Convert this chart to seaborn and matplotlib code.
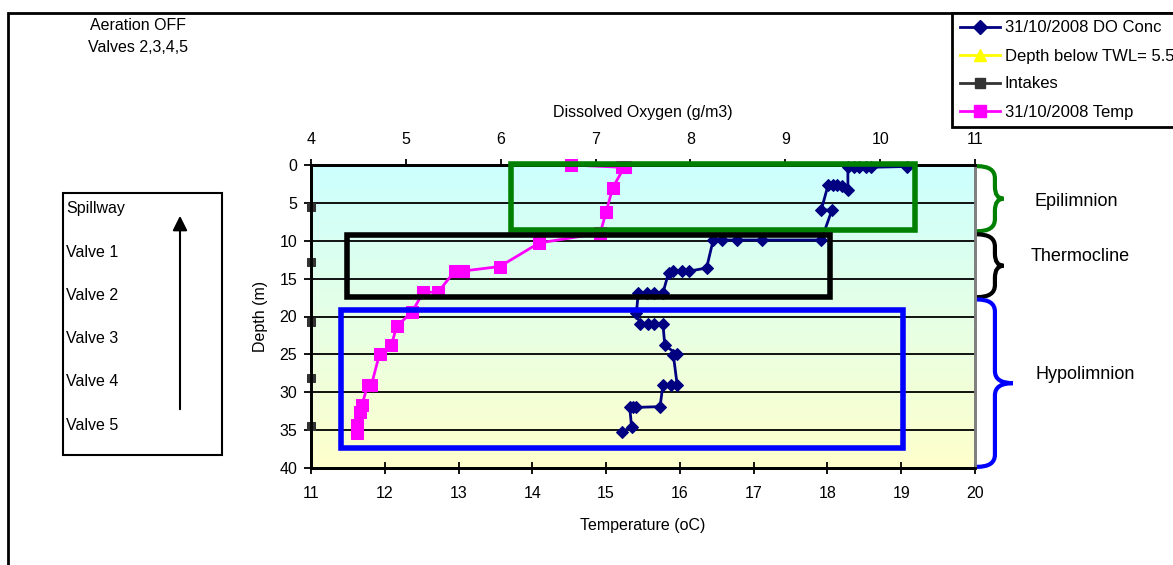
#!/usr/bin/env python3

import numpy as np
import pandas as pd
import matplotlib
matplotlib.use('Agg')
import matplotlib.pyplot as plt
import matplotlib.transforms as mtransforms
import seaborn as sns
from matplotlib.path import Path
from matplotlib.patches import PathPatch, Rectangle, FancyArrowPatch
from matplotlib.lines import Line2D
from matplotlib.colors import LinearSegmentedColormap

# dissolved oxygen profile (g/m3) vs depth (m)
do_conc = [10.28, 9.90, 9.85, 9.78, 9.72, 9.66, 9.66, 9.60, 9.55, 9.50, 9.45,
           9.38, 9.49, 9.38, 8.75, 8.49, 8.33, 8.24, 8.17, 7.99, 7.91, 7.82,
           7.77, 7.71, 7.62, 7.54, 7.45, 7.43, 7.47, 7.55, 7.62, 7.71, 7.73,
           7.86, 7.82, 7.86, 7.80, 7.71, 7.68, 7.43, 7.39, 7.36, 7.38, 7.28]
do_depth = [0.2, 0.3, 0.3, 0.3, 0.3, 0.3, 3.3, 2.8, 2.7, 2.7, 2.7,
            5.9, 6.0, 9.9, 9.9, 9.9, 9.9, 9.9, 13.6, 14.0, 14.0, 14.0,
            14.2, 16.9, 16.9, 16.9, 16.9, 19.6, 21.0, 21.0, 21.0, 21.0, 23.8,
            25.0, 25.1, 29.0, 29.0, 29.0, 31.9, 32.0, 32.0, 32.0, 34.6, 35.2]

# temperature profile (oC) vs depth (m)
temp = [14.52, 15.21, 15.25, 15.09, 15.00, 14.92, 14.09, 13.56, 13.06, 12.95,
        12.72, 12.52, 12.37, 12.16, 12.09, 11.93, 11.82, 11.77, 11.69, 11.66,
        11.62, 11.62]
temp_depth = [0.0, 0.3, 0.2, 3.0, 6.2, 9.0, 10.3, 13.4, 14.0, 14.0,
              16.8, 16.8, 19.4, 21.3, 23.8, 24.9, 29.0, 29.0, 31.7, 32.6,
              34.3, 35.4]

# intake depths (m), drawn on the temperature axis origin
intake_depth = [5.5, 12.8, 20.7, 28.1, 34.4]
intake_temp = [11, 11, 11, 11, 11]

valve_labels = ['Spillway', 'Valve 1', 'Valve 2', 'Valve 3', 'Valve 4', 'Valve 5']
zone_names = ['Epilimnion', 'Thermocline', 'Hypolimnion']
zone_top = [0, 9.0, 17.6]
zone_bottom = [8.9, 17.6, 40]
zone_colors = ['#008000', 'black', '#0000FF']

plt.rcParams['font.family'] = ['Liberation Sans', 'DejaVu Sans']
plt.rcParams['font.size'] = 11.5

W, H = 1173, 565


def fx(px):
	return px / W


def fy(py):
	return 1 - py / H


fig = plt.figure(figsize=(11.73, 5.65), dpi=100)
fig.patch.set_facecolor('white')
ax = fig.add_axes([fx(311), fy(468), fx(975) - fx(311), fy(165) - fy(468)])

# background gradient
cmap = LinearSegmentedColormap.from_list('bg', ['#CCFFFF', '#FFFFCC'])
ax.imshow(np.linspace(0, 1, 256).reshape(-1, 1), extent=(11, 20, 40, 0),
          cmap=cmap, aspect='auto', zorder=0)
ax.set_xlim(11, 20)
ax.set_ylim(40, 0)
ax.set_xticks(range(11, 21))
ax.set_yticks(range(0, 41, 5))
ax.yaxis.grid(True, color='black', linewidth=1.3)
ax.set_axisbelow(False)

temp_df = pd.DataFrame({'temp': temp, 'depth': temp_depth})
intake_df = pd.DataFrame({'temp': intake_temp, 'depth': intake_depth})
sns.lineplot(data=intake_df, x='temp', y='depth', sort=False, estimator=None,
             color='#333333', marker='s', markersize=6, markeredgecolor='#333333',
             linewidth=2, ax=ax, zorder=3)
sns.lineplot(data=temp_df, x='temp', y='depth', sort=False, estimator=None,
             color='#FF00FF', marker='s', markersize=9, markeredgecolor='#FF00FF',
             linewidth=2, ax=ax, zorder=4)
for ln in ax.lines:
	ln.set_clip_on(False)

ax.set_xlabel('Temperature (oC)', labelpad=12)
ax.set_ylabel('Depth (m)', labelpad=8)
ax.tick_params(axis='x', direction='inout', length=8, width=1.3, pad=9)
ax.tick_params(axis='y', direction='out', length=5, width=1.3, pad=5)

# DO on top axis
ax2 = ax.twiny()
do_df = pd.DataFrame({'do': do_conc, 'depth': do_depth})
sns.lineplot(data=do_df, x='do', y='depth', sort=False, estimator=None,
             color='#000080', marker='D', markersize=6.5, markeredgecolor='#000080',
             linewidth=2, ax=ax2, zorder=5)
for ln in ax2.lines:
	ln.set_clip_on(False)
ax2.set_xlim(4, 11)
ax2.set_ylim(40, 0)
ax2.set_xticks(range(4, 12))
ax2.set_xlabel('Dissolved Oxygen (g/m3)', labelpad=11)
ax2.tick_params(axis='x', direction='out', length=4, width=1.3, pad=9)

for a in (ax, ax2):
	for s in ('top', 'left', 'bottom'):
		a.spines[s].set_color('black')
		a.spines[s].set_linewidth(2)
	a.spines['right'].set_color('#808080')
	a.spines['right'].set_linewidth(2)

# zone boxes (temperature coordinates)
boxes = [((13.71, -0.1), 19.18, 8.6, '#008000'),
         ((11.49, 9.2), 18.03, 17.4, 'black'),
         ((11.41, 19.2), 19.03, 37.3, '#0000FF')]
for (x0, y0), x1, y1, col in boxes:
	rect = Rectangle((x0, y0), x1 - x0, y1 - y0, transform=ax.transData,
	                 fill=False, edgecolor=col, linewidth=4, zorder=6, clip_on=False)
	ax2.add_patch(rect)

# braces on the right
btr = mtransforms.blended_transform_factory(ax.transAxes, ax.transData)


def brace(top, bottom, color, tip):
	x0, x1 = 1.003, 1.03
	mid = (top + bottom) / 2
	r = 1.6
	verts = [(x0, top), (x1, top), (x1, top + r), (x1, mid - r), (x1, mid), (tip, mid),
	         (x1, mid), (x1, mid + r), (x1, bottom - r), (x1, bottom), (x0, bottom)]
	codes = [Path.MOVETO, Path.CURVE3, Path.CURVE3, Path.LINETO, Path.CURVE3, Path.CURVE3,
	         Path.CURVE3, Path.CURVE3, Path.LINETO, Path.CURVE3, Path.CURVE3]
	p = PathPatch(Path(verts, codes), transform=btr, fill=False, edgecolor=color,
	              linewidth=3, clip_on=False, zorder=7)
	ax2.add_patch(p)


tips = [1.043, 1.043, 1.057]
label_x = [1076, 1080, 1085]
label_y = [4.8, 12.1, 27.7]
ltr = mtransforms.blended_transform_factory(fig.transFigure, ax.transData)
for name, t, b, col, tp, lx, ly in zip(zone_names, zone_top, zone_bottom, zone_colors,
                                        tips, label_x, label_y):
	brace(t + 0.15, b - 0.15, col, tp)
	fig.text(fx(lx), ly, name, ha='center', va='center', fontsize=13, transform=ltr)

# outer frame
fig.add_artist(Rectangle((fx(8), -0.2), 1.2, fy(13) + 0.2, transform=fig.transFigure,
                         fill=False, edgecolor='black', linewidth=2))

# notes
fig.text(fx(138), fy(25), 'Aeration OFF', ha='center', va='center')
fig.text(fx(138), fy(48), 'Valves 2,3,4,5', ha='center', va='center')

# valve box
fig.add_artist(Rectangle((fx(63), fy(455)), fx(222) - fx(63), fy(193) - fy(455),
                         transform=fig.transFigure, fill=False, edgecolor='black',
                         linewidth=1.5))
for i, lab in enumerate(valve_labels):
	fig.text(fx(66), fy(209 + i * 43.2), lab, ha='left', va='center')
fig.add_artist(FancyArrowPatch((fx(180), fy(412)), (fx(180), fy(213)),
                               transform=fig.transFigure, arrowstyle='-|>',
                               mutation_scale=22, color='black', linewidth=1.5))

# legend
handles = [Line2D([], [], color='#000080', marker='D', markersize=7, linewidth=2),
           Line2D([], [], color='#FFFF00', marker='^', markersize=8, linewidth=2),
           Line2D([], [], color='#333333', marker='s', markersize=7, linewidth=2),
           Line2D([], [], color='#FF00FF', marker='s', markersize=9, linewidth=2)]
labels = ['31/10/2008 DO Conc', 'Depth below TWL= 5.5', 'Intakes', '31/10/2008 Temp']
leg = fig.legend(handles, labels, loc='upper left', bbox_to_anchor=(fx(952), fy(13)),
                 frameon=True, fancybox=False, edgecolor='black', framealpha=1,
                 borderaxespad=0, handlelength=2.4, labelspacing=0.78,
                 handletextpad=0.3, borderpad=0.45, fontsize=12)
leg.get_frame().set_linewidth(2)

fig.savefig('out.png', dpi=100)
